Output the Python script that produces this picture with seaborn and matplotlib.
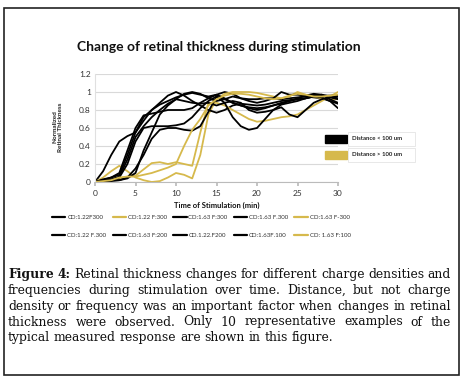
import numpy as np
import pandas as pd
import seaborn as sns
import matplotlib
matplotlib.use("Agg")
import matplotlib.pyplot as plt
from matplotlib.patches import Rectangle
from matplotlib.lines import Line2D

# ---------------- data ----------------
time_min = list(range(0, 31))

labels = ["CD:1.22F300", "CD:1.22 F:300", "CD:1.63 F:300", "CD:1.63 F.300", "CD:1.63 F-300",
          "CD:1.22 F.300", "CD:1.63 F:200", "CD.1.22.F200", "CD:1.63F.100", "CD: 1.63 F:100"]
groups = ["near", "far", "near", "near", "far", "near", "near", "near", "near", "far"]

s1 = [0, .12, .30, .45, .51, .55, .72, .80, .86, .90, .94, .97, .99, .97, .95, .97, 1.0, .98, .93, .92, .92, .93, .93, .92, .93, .94, .95, .94, .93, .90, .87]
s2 = [0, .05, .12, .18, .12, .05, .02, .00, .01, .05, .10, .08, .04, .30, .75, .92, .98, 1.0, 1.0, 1.0, .99, .97, .95, .93, .95, 1.0, .97, .95, .93, .92, .92]
s3 = [0, .02, .05, .10, .35, .60, .74, .76, .78, .80, .80, .80, .82, .88, .93, .97, .93, .88, .85, .82, .80, .82, .85, .87, .90, .92, .93, .95, .96, .95, .93]
s4 = [0, .03, .05, .08, .30, .55, .68, .80, .88, .96, 1.0, .96, .90, .85, .80, .77, .80, .85, .87, .86, .85, .86, .88, .90, .91, .92, .93, .95, .97, .95, .95]
s5 = [0, .01, .02, .04, .06, .07, .14, .21, .22, .20, .22, .20, .18, .55, .88, .88, .85, .80, .75, .70, .67, .68, .70, .72, .73, .75, .80, .85, .90, .95, 1.0]
s6 = [0, .01, .02, .05, .20, .45, .60, .62, .62, .62, .63, .65, .72, .82, .90, .95, .92, .88, .85, .83, .82, .83, .85, .88, .90, .93, .96, .98, .97, .92, .88]
s7 = [0, .01, .02, .02, .05, .15, .30, .48, .58, .60, .60, .58, .57, .62, .78, .95, .88, .72, .62, .58, .60, .70, .80, .86, .88, .90, .93, .95, .94, .90, .82]
s8 = [0, .01, .01, .02, .04, .10, .35, .55, .75, .85, .92, .98, 1.0, .98, .93, .90, .92, .95, .93, .90, .88, .90, .93, 1.0, .97, .97, .96, .97, .96, .96, .96]
s9 = [0, .02, .03, .06, .25, .50, .62, .72, .80, .87, .92, .90, .88, .87, .88, .85, .88, .90, .88, .80, .77, .78, .80, .83, .75, .72, .80, .88, .92, .94, .92]
s10 = [0, .01, .02, .05, .06, .06, .08, .10, .13, .16, .20, .40, .58, .70, .85, .92, .96, .98, .98, .97, .95, .93, .92, .93, .96, .98, .97, .95, .95, .96, .97]
series = [s1, s2, s3, s4, s5, s6, s7, s8, s9, s10]

x_ticks = [0, 5, 10, 15, 20, 25, 30]
y_ticks = [0, 0.2, 0.4, 0.6, 0.8, 1.0, 1.2]
y_tick_labels = ["0", "0.2", "0.4", "0.6", "0.8", "1", "1.2"]

title = "Change of retinal thickness during stimulation"
x_label = "Time of Stimulation (min)"
y_label = "Normalized\nRetinal Thickness"
group_labels = {"near": "Distance < 100 um", "far": "Distance > 100 um"}

caption_lines = [
    "Figure 4: Retinal thickness changes for different charge densities and",
    "frequencies during stimulation over time. Distance, but not charge",
    "density or frequency was an important factor when changes in retinal",
    "thickness were observed. Only 10 representative examples of the",
    "typical measured response are shown in this figure.",
]

# ---------------- style ----------------
BLACK = "#000000"
GOLD = "#D6B94C"
group_color = {"near": BLACK, "far": GOLD}
palette = {lab: group_color[g] for lab, g in zip(labels, groups)}

sns.set_theme(style="white")
plt.rcParams["font.family"] = ["Lato", "DejaVu Sans"]

W, H = 466, 383
fig = plt.figure(figsize=(W / 100, H / 100), dpi=100)

def fx(px):
    return px / W

def fy(py):
    return 1 - py / H

df = pd.concat([pd.DataFrame({"time": time_min, "value": s, "series": lab})
                for lab, s in zip(labels, series)], ignore_index=True)

ax = fig.add_axes([fx(95), fy(182), fx(338) - fx(95), fy(74) - fy(182)])
sns.lineplot(data=df, x="time", y="value", hue="series", hue_order=labels,
             palette=palette, linewidth=1.3, legend=False, ax=ax)
ax.set_xlim(0, 30)
ax.set_ylim(0, 1.2)
ax.set_xticks(x_ticks)
ax.set_yticks(y_ticks)
ax.set_yticklabels(y_tick_labels)
ax.tick_params(axis="both", labelsize=6, colors="#333333", pad=3)
ax.tick_params(axis="x", length=3, color="#bbbbbb", direction="out", bottom=True)
ax.tick_params(axis="y", length=0)
ax.grid(axis="y", color="#d9d9d9", linewidth=0.8)
ax.set_axisbelow(True)
for side in ["top", "right"]:
    ax.spines[side].set_visible(False)
ax.spines["left"].set_color("#e0e0e0")
ax.spines["bottom"].set_color("#bbbbbb")
ax.spines["left"].set_linewidth(0.8)
ax.spines["bottom"].set_linewidth(0.8)
ax.set_xlabel(x_label, fontsize=5.5, fontweight="bold", labelpad=3, color="#111111")
ax.set_ylabel("")
fig.text(fx(58), fy(127), y_label, rotation=90, ha="center", va="center",
         fontsize=4.6, fontweight="bold", color="#222222", linespacing=1.1)

fig.text(fx(219), fy(47), title, ha="center", va="center", fontsize=10,
         fontweight="bold", color="#111111")

# bottom legend (row-wise order)
handles = [Line2D([], [], color=palette[l], linewidth=1.6) for l in labels]
order = []
for c in range(5):
    order += [c, c + 5]
leg = fig.legend([handles[i] for i in order], [labels[i] for i in order], ncol=5,
                 loc="upper left", bbox_to_anchor=(fx(52), fy(215)), frameon=False,
                 fontsize=4.4, handlelength=2.2, handletextpad=0.3, columnspacing=1.0,
                 labelspacing=2.0, borderaxespad=0, borderpad=0)
for t in leg.get_texts():
    t.set_color("#333333")

# right legend
for key, ytop in [("near", 135), ("far", 151)]:
    fig.patches.append(Rectangle((fx(325), fy(ytop + 8)), fx(22), 8 / H,
                                 transform=fig.transFigure, color=group_color[key]))
    fig.patches.append(Rectangle((fx(348), fy(ytop + 11)), fx(67), 14 / H,
                                 transform=fig.transFigure, facecolor="white",
                                 edgecolor="#e4e4e4", linewidth=0.6))
    fig.text(fx(352), fy(ytop + 4), group_labels[key], ha="left", va="center",
             fontsize=4.3, fontweight="bold", color="#222222")

# frame
fig.patches.append(Rectangle((fx(3.5), fy(375)), fx(459) - fx(3.5), fy(8) - fy(375),
                             transform=fig.transFigure, fill=False,
                             edgecolor="#222222", linewidth=1.2))

# justified caption
renderer = fig.canvas.get_renderer()
cap_font = ["DejaVu Serif"]
x_left, x_right = 8, 451
line_base = [278, 294, 310, 325.5, 341]

def word_width(word, weight, size):
    t = fig.text(0, 0, word, fontsize=size, family=cap_font, fontweight=weight)
    w = t.get_window_extent(renderer).width
    t.remove()
    return w

# font size so the (unjustified) last line spans about 329 px as in the reference
cap_size = 10 * 329 / word_width(caption_lines[-1], "normal", 10)
space_w = word_width("a b", "normal", cap_size) - word_width("ab", "normal", cap_size)
for i, line in enumerate(caption_lines):
    words = line.split(" ")
    weights = ["bold" if (i == 0 and j < 2) else "normal" for j in range(len(words))]
    widths = [word_width(w, wt, cap_size) for w, wt in zip(words, weights)]
    if i < len(caption_lines) - 1:
        gap = (x_right - x_left - sum(widths)) / (len(words) - 1)
    else:
        gap = space_w
    x = x_left
    for w, wt, wd in zip(words, weights, widths):
        fig.text(fx(x), fy(line_base[i]), w, fontsize=cap_size, family=cap_font,
                 fontweight=wt, ha="left", va="baseline", color="#111111")
        x += wd + gap

fig.savefig("out.png", dpi=100)
